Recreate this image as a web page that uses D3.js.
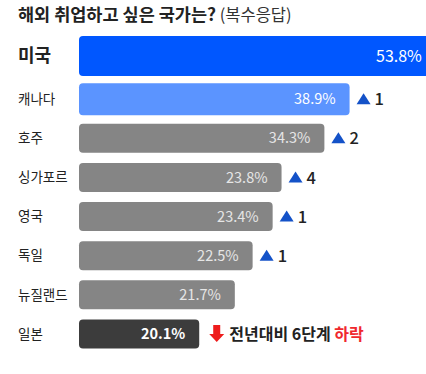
<!DOCTYPE html>
<html>
<head>
<meta charset="utf-8">
<script src="https://cdn.jsdelivr.net/npm/d3@7"></script>
<style>
  body { margin: 0; background: #fff; }
  text { font-family: "Noto Sans CJK KR", "Noto Sans", sans-serif; }
</style>
</head>
<body>
<script>
var svgWidth = 426;
var svgHeight = 374;

// DATA
var countries = ["미국", "캐나다", "호주", "싱가포르", "영국", "독일", "뉴질랜드", "일본"];
var values = [53.8, 38.9, 34.3, 23.8, 23.4, 22.5, 21.7, 20.1];
var rankChange = [null, 1, 2, 4, 1, 1, null, -6];
var titleMain = "해외 취업하고 싶은 국가는?";
var titleSub = " (복수응답)";
var dropText = "전년대비 6단계 ";
var dropWord = "하락";

var barLeft = 79;

var svg = d3.select("body")
  .append("svg")
  .attr("width", svgWidth)
  .attr("height", svgHeight);

// TITLE
var title = svg.append("text")
  .attr("x", 18)
  .attr("y", 21)
  .attr("fill", "#222");
title.append("tspan").attr("font-size", 17.5).attr("font-weight", 700).text(titleMain);
title.append("tspan").attr("font-size", 16.5).attr("font-weight", 400).attr("fill", "#333").text(titleSub);

// SCALES
// infographic bars are not proportional, so use a piecewise linear scale
var xScale = d3.scaleLinear()
  .domain([0, 20, 24, 35, 54])
  .range([0, 118, 207, 248, 358]);

var yScale = d3.scalePoint()
  .domain(countries)
  .range([60, 334]);

function barHeight(i) { return i === 0 ? 40 : (i === 1 ? 32 : 29); }
function rowCenter(i) { return yScale(countries[i]) - (i === 0 ? 4 : 0); }
function barColor(i) {
  if (i === 0) return "#0057ff";
  if (i === 1) return "#5b94ff";
  if (i === countries.length - 1) return "#3c3c3c";
  return "#858585";
}
function valueColor(i) {
  if (i <= 1 || i === countries.length - 1) return "#fff";
  return "#e6e6e6";
}

var rows = svg.selectAll("g.row")
  .data(countries)
  .enter()
  .append("g")
  .attr("class", "row");

// COUNTRY LABELS
rows.append("text")
  .attr("x", 18)
  .attr("y", (d, i) => rowCenter(i))
  .attr("dy", "0.35em")
  .attr("font-size", (d, i) => i === 0 ? 18 : 13.5)
  .attr("font-weight", (d, i) => i === 0 ? 700 : 400)
  .attr("fill", "#222")
  .text(d => d);

// BARS
rows.append("rect")
  .attr("x", barLeft)
  .attr("y", (d, i) => rowCenter(i) - barHeight(i) / 2)
  .attr("width", (d, i) => xScale(values[i]))
  .attr("height", (d, i) => barHeight(i))
  .attr("rx", 4)
  .attr("fill", (d, i) => barColor(i));

// VALUE LABELS
rows.append("text")
  .attr("x", (d, i) => barLeft + xScale(values[i]) - 14)
  .attr("y", (d, i) => rowCenter(i))
  .attr("dy", "0.35em")
  .attr("text-anchor", "end")
  .attr("font-size", (d, i) => i === 0 ? 16 : 14.5)
  .attr("font-weight", (d, i) => i === countries.length - 1 ? 700 : 400)
  .attr("fill", (d, i) => valueColor(i))
  .text((d, i) => values[i].toFixed(1) + "%");

// RANK UP MARKERS
rows.filter((d, i) => rankChange[i] > 0).each(function(d) {
  var i = countries.indexOf(d);
  var x0 = barLeft + xScale(values[i]) + 7;
  var cy = rowCenter(i);
  var g = d3.select(this);
  g.append("path")
    .attr("d", `M${x0},${cy + 5} L${x0 + 14},${cy + 5} L${x0 + 7},${cy - 6} Z`)
    .attr("fill", "#1452c8");
  g.append("text")
    .attr("x", x0 + 18)
    .attr("y", cy)
    .attr("dy", "0.37em")
    .attr("font-size", 16.5)
    .attr("font-weight", 500)
    .attr("fill", "#222")
    .text(rankChange[i]);
});

// RANK DOWN MARKER
rows.filter((d, i) => rankChange[i] < 0).each(function(d) {
  var i = countries.indexOf(d);
  var x0 = barLeft + xScale(values[i]) + 10;
  var cy = rowCenter(i);
  var g = d3.select(this);
  g.append("path")
    .attr("d", `M${x0 + 4},${cy - 9} L${x0 + 11},${cy - 9} L${x0 + 11},${cy} L${x0 + 15},${cy} L${x0 + 7.5},${cy + 8} L${x0},${cy} L${x0 + 4},${cy} Z`)
    .attr("fill", "#ee1c1c");
  var t = g.append("text")
    .attr("x", x0 + 20)
    .attr("y", cy)
    .attr("dy", "0.37em")
    .attr("font-size", 16)
    .attr("font-weight", 700)
    .attr("fill", "#222");
  t.append("tspan").text(dropText);
  t.append("tspan").attr("fill", "#f0282d").text(dropWord);
});
</script>
</body>
</html>
